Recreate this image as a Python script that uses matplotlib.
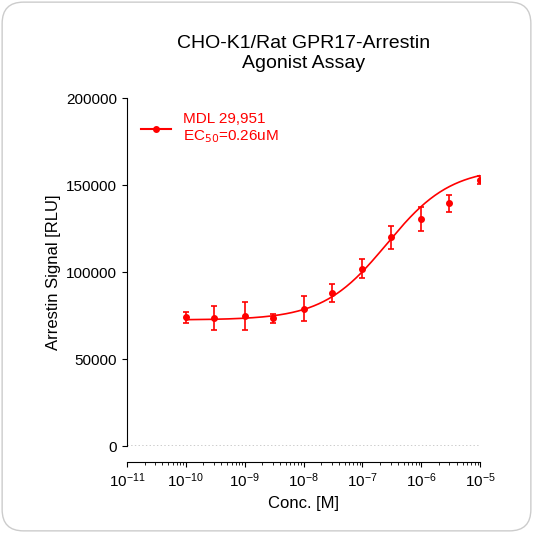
import numpy as np
import matplotlib
matplotlib.use("Agg")
import matplotlib.pyplot as plt
from matplotlib.patches import FancyBboxPatch
from matplotlib.ticker import LogLocator, NullFormatter

conc = [1e-10, 3e-10, 1e-9, 3e-9, 1e-8, 3e-8, 1e-7, 3e-7, 1e-6, 3e-6, 1e-5]
signal = [74000, 73500, 75000, 73500, 79000, 88000, 102000, 120000, 130500, 139500, 153000]
err = [3000, 7000, 8000, 2500, 7000, 5000, 5500, 6500, 7000, 5000, 2500]
bottom, top, ec50, hill = 72500, 160000, 0.26e-6, 0.8

plt.rcParams['font.family'] = ['Liberation Sans', 'DejaVu Sans']
fig = plt.figure(figsize=(5.33, 5.33), dpi=100)
fig.patch.set_alpha(0)
bg = FancyBboxPatch((0.004, 0.004), 0.992, 0.992, boxstyle="round,pad=0,rounding_size=0.04",
                    transform=fig.transFigure, fc='white', ec='#cccccc', lw=1, zorder=-10)
fig.patches.append(bg)
ax = fig.add_axes([0.238, 0.163, 0.663, 0.653])
ax.patch.set_alpha(0)
xs = np.logspace(-10, -5, 300)
ax.plot(xs, bottom + (top - bottom) / (1 + (ec50 / xs) ** hill), color='red', lw=1.2)
ax.errorbar(conc, signal, yerr=err, fmt='o', color='red', ms=4, capsize=2.5, elinewidth=1.2, capthick=1.2)
ax.plot([], [], '-o', color='red', ms=4, label='MDL 29,951\nEC$_{50}$=0.26uM')
ax.axhline(0, color='black', ls=':', lw=1)
ax.set_xscale('log')
ax.set_xlim(1e-11, 1e-5)
ax.set_ylim(0, 200000)
ax.set_yticks([0, 50000, 100000, 150000, 200000])
ax.xaxis.set_major_locator(LogLocator(base=10, numticks=20))
ax.xaxis.set_minor_locator(LogLocator(base=10, subs=np.arange(2, 10), numticks=20))
ax.xaxis.set_minor_formatter(NullFormatter())
ax.spines['top'].set_visible(False)
ax.spines['right'].set_visible(False)
ax.spines['bottom'].set_position(('outward', 11.5))
ax.tick_params(labelsize=11)
ax.set_xlabel('Conc. [M]', fontsize=12)
ax.set_ylabel('Arrestin Signal [RLU]', fontsize=12)
ax.set_title('CHO-K1/Rat GPR17-Arrestin\nAgonist Assay', fontsize=14, pad=22)
leg = ax.legend(loc='upper left', frameon=False, fontsize=11, bbox_to_anchor=(0.0, 1.0))
for t in leg.get_texts():
    t.set_color('red')
fig.savefig('out.png', dpi=100)
